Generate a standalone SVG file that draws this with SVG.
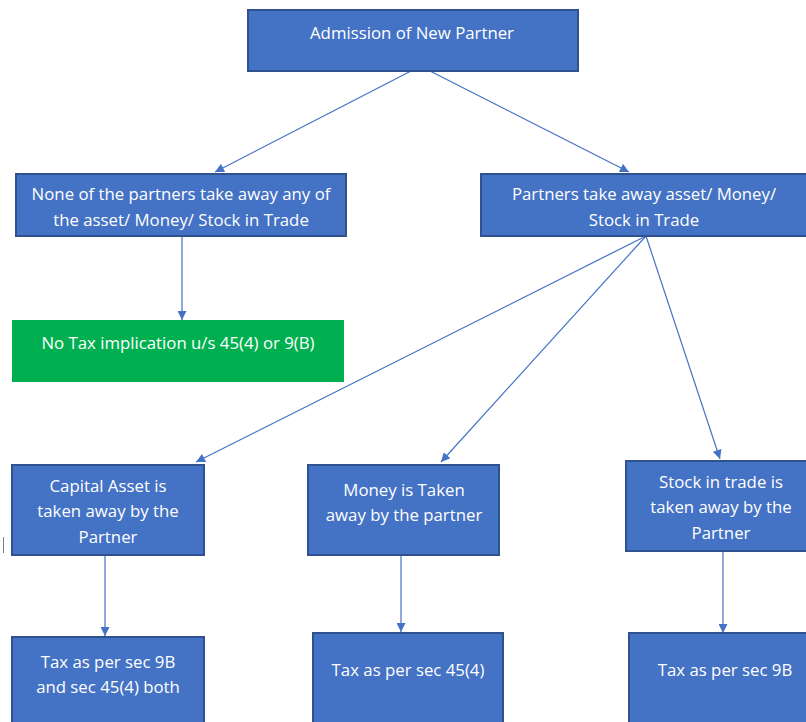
<svg xmlns="http://www.w3.org/2000/svg" width="806" height="722" viewBox="0 0 806 722">
<style>
.box{fill:#4472C4;stroke:#2F528F;stroke-width:2}
.green{fill:#00B050;stroke:none}
.t{font-family:"Open Sans","Noto Sans","Liberation Sans",sans-serif;font-size:16.8px;fill:#ffffff;text-anchor:middle}
.c{stroke:#4472C4;stroke-width:1.2;fill:none;marker-end:url(#ah)}
</style>
<defs>
<marker id="ah" viewBox="0 0 10 10" refX="10" refY="5" markerWidth="10" markerHeight="9" markerUnits="userSpaceOnUse" orient="auto">
<path d="M0,0 L10,5 L0,10 z" fill="#4472C4"/>
</marker>
</defs>
<rect width="806" height="722" fill="#ffffff"/>
<g id="connectors">
<line class="c" x1="411" y1="71" x2="215" y2="172"/>
<line class="c" x1="430" y1="71" x2="629" y2="172"/>
<line class="c" x1="182" y1="236" x2="182" y2="320"/>
<line class="c" x1="646" y1="236" x2="196" y2="462"/>
<line class="c" x1="646" y1="236" x2="441" y2="462"/>
<line class="c" x1="646" y1="236" x2="720" y2="459"/>
<line class="c" x1="105" y1="555" x2="105" y2="636"/>
<line class="c" x1="401" y1="555" x2="401" y2="632"/>
<line class="c" x1="723" y1="551" x2="723" y2="633"/>
</g>
<g id="admission">
<rect class="box" x="248" y="10" width="330" height="61"/>
<text class="t" x="412" y="39">Admission of New Partner</text>
</g>
<g id="none">
<rect class="box" x="16" y="174" width="330" height="62"/>
<text class="t" x="181" y="200">None of the partners take away any of</text>
<text class="t" x="181" y="226">the asset/ Money/ Stock in Trade</text>
</g>
<g id="partners">
<rect class="box" x="481" y="174" width="330" height="62"/>
<text class="t" x="644" y="200">Partners take away asset/ Money/</text>
<text class="t" x="644" y="226">Stock in Trade</text>
</g>
<g id="notax">
<rect class="green" x="12" y="320" width="332" height="62"/>
<text class="t" x="178" y="349">No Tax implication u/s 45(4) or 9(B)</text>
</g>
<g id="capital">
<rect class="box" x="12" y="465" width="192" height="90"/>
<text class="t" x="108" y="492">Capital Asset is</text>
<text class="t" x="108" y="517">taken away by the</text>
<text class="t" x="108" y="543">Partner</text>
</g>
<g id="money">
<rect class="box" x="308" y="465" width="191" height="90"/>
<text class="t" x="404" y="496">Money is Taken</text>
<text class="t" x="404" y="521">away by the partner</text>
</g>
<g id="stock">
<rect class="box" x="626" y="461" width="190" height="90"/>
<text class="t" x="721" y="488">Stock in trade is</text>
<text class="t" x="721" y="513">taken away by the</text>
<text class="t" x="721" y="539">Partner</text>
</g>
<g id="tax-both">
<rect class="box" x="12" y="637" width="192" height="95"/>
<text class="t" x="108" y="668">Tax as per sec 9B</text>
<text class="t" x="108" y="693">and sec 45(4) both</text>
</g>
<g id="tax-454">
<rect class="box" x="313" y="633" width="190" height="99"/>
<text class="t" x="408" y="676">Tax as per sec 45(4)</text>
</g>
<g id="tax-9b">
<rect class="box" x="629" y="633" width="190" height="99"/>
<text class="t" x="725" y="676">Tax as per sec 9B</text>
</g>
<line x1="3.5" y1="537" x2="3.5" y2="553" stroke="#808080" stroke-width="1"/>
</svg>
